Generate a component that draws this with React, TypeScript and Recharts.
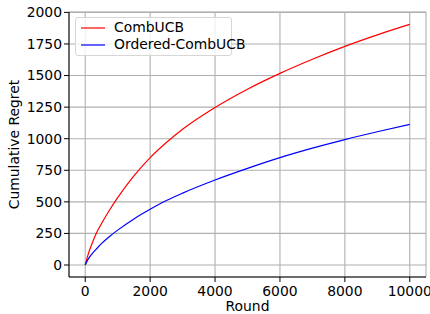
import React from 'react';
import {
  LineChart, Line, XAxis, YAxis, CartesianGrid, Legend
} from 'recharts';

// Rounds at which regret was sampled
const rounds = [0, 100, 200, 350, 500, 750, 1000, 1500, 2000, 2500, 3000, 4000, 5000, 6000, 7000, 8000, 9000, 10000];
// Cumulative regret
const combUcb = [0, 92, 163, 255, 327, 435, 533, 705, 850, 970, 1075, 1247, 1392, 1517, 1629, 1731, 1822, 1905];
const orderedCombUcb = [0, 50, 85, 128, 169, 226, 276, 365, 441, 510, 569, 673, 765, 850, 925, 993, 1055, 1113];

const xTicks = [0, 2000, 4000, 6000, 8000, 10000];
const yTicks = [0, 250, 500, 750, 1000, 1250, 1500, 1750, 2000];

const FONT = 'DejaVu Sans';
const FS = 13.9;

const data = rounds.map((round, i) => ({
  round,
  combUcb: combUcb[i],
  orderedCombUcb: orderedCombUcb[i],
}));

const LegendBox = (props: any) => {
  const items = props.payload || [];
  return (
    <div
      style={{
        border: '1px solid #d6d6d6',
        borderRadius: 3,
        background: 'rgba(255,255,255,0.8)',
        width: 157,
        height: 39,
        boxSizing: 'border-box',
        fontFamily: FONT,
        fontSize: FS,
        color: '#000',
        paddingTop: 1,
        whiteSpace: 'nowrap',
      }}
    >
      {items.map((it: any) => (
        <div key={it.value} style={{ display: 'flex', alignItems: 'center', height: 17.3 }}>
          <svg width={38} height={17} style={{ flex: 'none' }}>
            <line x1={5} x2={29} y1={9} y2={9} stroke={it.color} strokeWidth={1.2} />
          </svg>
          <span style={{ lineHeight: '17px' }}>{it.value}</span>
        </div>
      ))}
    </div>
  );
};

const App: React.FC = () => {
  return (
    <div style={{ position: 'absolute', left: 0, top: 0, background: '#fff' }}>
      <LineChart
        width={430}
        height={314}
        data={data}
        margin={{ top: 12, right: 4, bottom: 0, left: 0 }}
      >
        <CartesianGrid stroke="#b0b0b0" strokeWidth={1.1} />
        <XAxis
          dataKey="round"
          type="number"
          domain={[-500, 10500]}
          ticks={xTicks}
          height={37}
          stroke="#000"
          tickSize={5}
          tickMargin={4}
          tick={{ fill: '#000', fontFamily: FONT, fontSize: FS }}
          interval={0}
          allowDataOverflow
          label={{
            content: (p: any) => {
              const vb = p.viewBox;
              return (
                <text
                  x={vb.x + vb.width / 2}
                  y={311}
                  textAnchor="middle"
                  fontFamily={FONT}
                  fontSize={FS}
                  fill="#000"
                >
                  Round
                </text>
              );
            },
          }}
        />
        <XAxis xAxisId="top" orientation="top" type="number" domain={[-500, 10500]} height={0} tick={false} tickLine={false} stroke="#000" />
        <YAxis
          type="number"
          domain={[-95, 2003]}
          ticks={yTicks}
          width={69}
          stroke="#000"
          tickSize={5}
          tickMargin={2}
          tick={{ fill: '#000', fontFamily: FONT, fontSize: FS }}
          interval={0}
          allowDataOverflow
          label={{
            content: (p: any) => {
              const vb = p.viewBox;
              const cx = 14;
              const cy = vb.y + vb.height / 2;
              return (
                <text
                  x={cx}
                  y={cy}
                  transform={`rotate(-90 ${cx} ${cy})`}
                  textAnchor="middle"
                  dominantBaseline="central"
                  fontFamily={FONT}
                  fontSize={FS}
                  fill="#000"
                >
                  Cumulative Regret
                </text>
              );
            },
          }}
        />
        <YAxis yAxisId="right" orientation="right" type="number" domain={[-95, 2003]} width={0} tick={false} tickLine={false} stroke="#000" />
        <Legend
          layout="horizontal"
          verticalAlign="middle"
          align="center"
          content={LegendBox}
          wrapperStyle={{ top: 17, left: 75, width: 'auto' }}
        />
        <Line
          type="monotone"
          dataKey="combUcb"
          name="CombUCB"
          stroke="#ff0000"
          strokeWidth={1.2}
          dot={false}
          isAnimationActive={false}
        />
        <Line
          type="monotone"
          dataKey="orderedCombUcb"
          name="Ordered-CombUCB"
          stroke="#0000ff"
          strokeWidth={1.2}
          dot={false}
          isAnimationActive={false}
        />
      </LineChart>
    </div>
  );
};

export default App;
